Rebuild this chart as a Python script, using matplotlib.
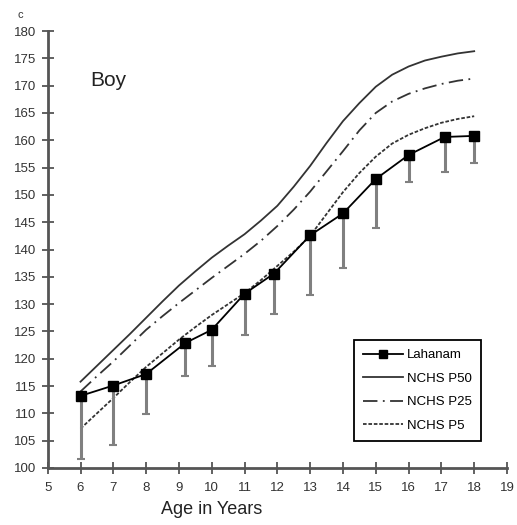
import matplotlib
matplotlib.use("Agg")
import matplotlib.pyplot as plt
import numpy as np

# Data
lah_age = [6, 7, 8, 9.2, 10, 11, 11.9, 13, 14, 15, 16, 17.1, 18]
lah_mean = [113.2, 115.1, 117.2, 122.9, 125.3, 131.9, 135.6, 142.6, 146.6, 152.9, 157.3, 160.6, 160.8]
lah_low = [101.6, 104.2, 109.9, 116.8, 118.6, 124.4, 128.2, 131.7, 136.6, 144.0, 152.4, 154.1, 155.9]

nchs_age = [6, 6.5, 7, 7.5, 8, 8.5, 9, 9.5, 10, 10.5, 11, 11.5, 12, 12.5,
            13, 13.5, 14, 14.5, 15, 15.5, 16, 16.5, 17, 17.5, 18]
p50 = [115.8, 118.7, 121.6, 124.5, 127.5, 130.5, 133.4, 136.0, 138.5, 140.7, 142.8, 145.3,
       148.0, 151.5, 155.3, 159.5, 163.5, 166.8, 169.8, 172.0, 173.5, 174.6, 175.3, 175.9, 176.3]
p25 = [114.0, 116.8, 119.5, 122.4, 125.3, 127.8, 130.2, 132.5, 134.8, 137.0, 139.2, 141.6,
       144.3, 147.3, 150.6, 154.3, 158.0, 161.8, 165.0, 167.1, 168.5, 169.5, 170.3, 170.9, 171.3]
p5 = [107.2, 110.0, 112.8, 115.7, 118.5, 121.0, 123.5, 125.8, 128.0, 130.0, 132.0, 134.4,
      137.0, 139.6, 142.5, 146.5, 150.5, 154.0, 157.0, 159.4, 161.0, 162.2, 163.2, 163.9, 164.4]

xticks = list(range(5, 20))
yticks = list(range(100, 181, 5))

plt.rcParams['font.family'] = ['Liberation Sans', 'DejaVu Sans']

W, H = 517, 525
fig = plt.figure(figsize=(W / 100, H / 100), dpi=100)
ax = fig.add_axes([47.7 / W, (H - 468) / H, (507 - 47.7) / W, (468 - 31) / H])

ax.plot(nchs_age, p50, color='#333333', lw=1.3, linestyle='-', label='NCHS P50')
ax.plot(nchs_age, p25, color='#333333', lw=1.3, linestyle=(0, (8, 3, 1, 3)), label='NCHS P25')
ax.plot(nchs_age, p5, color='#333333', lw=1.3, linestyle=(0, (2, 1)), label='NCHS P5')

err_low = np.array(lah_mean) - np.array(lah_low)
ax.errorbar(lah_age, lah_mean, yerr=[err_low, np.zeros_like(err_low)], fmt='none',
            ecolor='#808080', elinewidth=2.2, capsize=3, capthick=1.5, zorder=3)
ax.plot(lah_age, lah_mean, color='black', lw=1.3, marker='s', markersize=6.5,
        markerfacecolor='black', label='Lahanam', zorder=4)

ax.set_xlim(5, 19)
ax.set_ylim(100, 180)
ax.set_xticks(xticks)
ax.set_yticks(yticks)
for s in ['top', 'right']:
    ax.spines[s].set_visible(False)
for s in ['left', 'bottom']:
    ax.spines[s].set_color('#555555')
    ax.spines[s].set_linewidth(2)
ax.tick_params(direction='inout', length=8, width=1.3, color='#555555',
               labelsize=9.5, pad=4)
ax.tick_params(axis='x', pad=6)
for lbl in ax.get_xticklabels() + ax.get_yticklabels():
    lbl.set_color('#333333')

fig.text(20 / W, 1 - 15 / H, 'c', fontsize=8, ha='center', va='center', color='#333333')
ax.text(6.3, 171, 'Boy', fontsize=15, ha='left', va='center', color='#222222')
fig.text(212 / W, 1 - 510 / H, 'Age in Years', fontsize=13, ha='center', va='center', color='#222222')

handles, labels = ax.get_legend_handles_labels()
order = [3, 0, 1, 2]
leg = fig.legend([handles[i] for i in order], [labels[i] for i in order],
                 loc='upper left', bbox_to_anchor=(354 / W, 1 - 340 / H),
                 fancybox=False, edgecolor='black', framealpha=1,
                 fontsize=9.5, handlelength=3.0, labelspacing=0.85, borderpad=0.7,
                 handletextpad=0.3, markerscale=0.8, borderaxespad=0)
leg.get_frame().set_linewidth(1.3)

fig.savefig('out.png', dpi=100)
